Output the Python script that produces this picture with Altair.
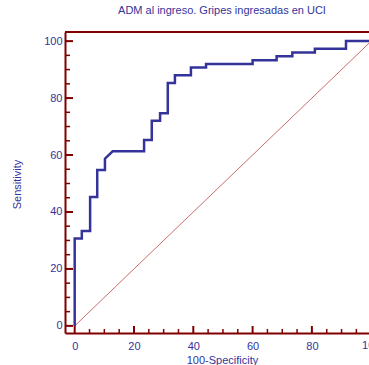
import altair as alt
import pandas as pd

# ROC curve vertices (100-Specificity, Sensitivity), in drawing order
fpr = [0, 0, 2.4, 2.4, 5.2, 5.2, 7.6, 7.6, 10.2, 10.2, 12.8, 23.4, 23.4, 26.0, 26.0,
       28.8, 28.8, 31.4, 31.4, 33.8, 33.8, 39.2, 39.2, 44.3, 44.3, 60.0, 60.0,
       68.1, 68.1, 73.4, 73.4, 81.0, 81.0, 91.5, 91.5, 100]
tpr = [0, 30.7, 30.7, 33.3, 33.3, 45.3, 45.3, 54.7, 54.7, 58.7, 61.3, 61.3, 65.3, 65.3,
       72.0, 72.0, 74.7, 74.7, 85.3, 85.3, 88.0, 88.0, 90.7, 90.7, 92.0, 92.0, 93.3,
       93.3, 94.7, 94.7, 96.0, 96.0, 97.3, 97.3, 100, 100]

# reference diagonal
diag_x = [0, 100]
diag_y = [0, 100]

major_ticks = [0, 20, 40, 60, 80, 100]
minor_ticks = [v for v in range(5, 100, 5) if v % 20 != 0]

title_text = "ADM al ingreso. Gripes ingresadas en UCI"
x_title = "100-Specificity"
y_title = "Sensitivity"

W, H = 304, 301
AXIS = "#800000"
BLUE = "#33339a"
FONT = "Liberation Sans"

xs = alt.Scale(domain=[-3.27, 99.26], nice=False, zero=False)
ys = alt.Scale(domain=[-2.5, 103.2], nice=False, zero=False)

# one shared axis definition per channel, reused by every layer
x_axis = alt.Axis(
    values=major_ticks, ticks=False, grid=False, domainColor=AXIS, domainWidth=2,
    labelColor=BLUE, labelFont=FONT, labelFontSize=11, labelPadding=7,
    title=x_title, titleColor=BLUE, titleFont=FONT, titleFontSize=11,
    titleFontWeight="normal", titleX=157, titleY=30.5, titleBaseline="alphabetic",
    titleAlign="center")
y_axis = alt.Axis(
    values=major_ticks, ticks=False, grid=False, domainColor=AXIS, domainWidth=2,
    labelColor=BLUE, labelFont=FONT, labelFontSize=11, labelPadding=3,
    title=y_title, titleColor=BLUE, titleFont=FONT, titleFontSize=11,
    titleFontWeight="normal", titleX=-48, titleY=152, titleAngle=270,
    titleBaseline="middle", titleAlign="center")

roc = pd.DataFrame({"fpr": fpr, "tpr": tpr, "i": range(len(fpr))})
diag = pd.DataFrame({"fpr": diag_x, "tpr": diag_y})
majors = pd.DataFrame({"v": major_ticks})
minors = pd.DataFrame({"v": minor_ticks})

curve = alt.Chart(roc).mark_line(color=BLUE, strokeWidth=2.5, clip=True,
                                 strokeJoin="miter").encode(
    x=alt.X("fpr:Q", scale=xs, axis=x_axis),
    y=alt.Y("tpr:Q", scale=ys, axis=y_axis),
    order="i:Q",
)

diagonal = alt.Chart(diag).mark_line(color="#cc6b6b", strokeWidth=1, clip=True).encode(
    x=alt.X("fpr:Q", scale=xs, axis=x_axis),
    y=alt.Y("tpr:Q", scale=ys, axis=y_axis),
)

# inward-pointing tick marks along both axes
y_major = alt.Chart(majors).mark_rule(color=AXIS, strokeWidth=2).encode(
    y=alt.Y("v:Q", scale=ys, axis=y_axis), x=alt.value(0), x2=alt.value(8))
y_minor = alt.Chart(minors).mark_rule(color=AXIS, strokeWidth=1.5).encode(
    y=alt.Y("v:Q", scale=ys, axis=y_axis), x=alt.value(0), x2=alt.value(5))
x_major = alt.Chart(majors).mark_rule(color=AXIS, strokeWidth=2).encode(
    x=alt.X("v:Q", scale=xs, axis=x_axis), y=alt.value(H), y2=alt.value(H - 7))
x_minor = alt.Chart(minors).mark_rule(color=AXIS, strokeWidth=1.5).encode(
    x=alt.X("v:Q", scale=xs, axis=x_axis), y=alt.value(H), y2=alt.value(H - 4))

# frame line along the top of the plot
top_border = alt.Chart(majors).mark_rule(color=AXIS, strokeWidth=2).encode(
    x=alt.value(0), x2=alt.value(W), y=alt.value(0))

# last x label sits at the right edge of the frame
last_label = alt.Chart(pd.DataFrame({"v": [100]})).mark_text(
    color=BLUE, font=FONT, fontSize=11, baseline="top", align="center").encode(
    x=alt.X("v:Q", scale=xs, axis=x_axis), y=alt.value(H + 7), text=alt.Text("v:Q"))

chart = alt.layer(diagonal, curve, y_minor, y_major, x_minor, x_major, top_border,
                  last_label).properties(
    width=W, height=H,
    title=alt.TitleParams(title_text, font=FONT, fontSize=11, fontWeight="normal",
                          color=BLUE, anchor="middle", dx=5, offset=6,
                          baseline="alphabetic"),
    autosize=alt.AutoSizeParams(type="none"),
    padding={"left": 65, "top": 32, "right": 0, "bottom": 32},
).configure_view(stroke=None).configure(background="white")

chart.save("out.html", embed_options={"renderer": "svg", "actions": False})
